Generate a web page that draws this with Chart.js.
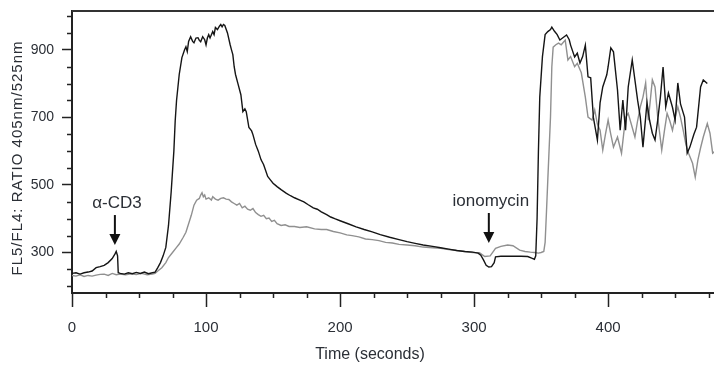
<!DOCTYPE html>
<html>
<head>
<meta charset="utf-8">
<script src="https://cdn.jsdelivr.net/npm/chart.js@4/dist/chart.umd.min.js"></script>
<style>
  html, body { margin: 0; padding: 0; background: #ffffff; overflow: hidden; }
  #wrap { width: 714px; height: 371px; position: relative; }
  canvas { display: block; }
</style>
</head>
<body>
<div id="wrap"><canvas id="c" width="714" height="371" style="width:714px;height:371px"></canvas></div>
<script>
// ---- Data ----
const blackTime = [0,3,6,9,12,15,18,21,24,27,30,32,33,34,34.5,36,39,42,45,48,51,54,57,60,62,64,66,68,70,72,74,76,77,78,80,82,84,85,86,87,88.5,90,91,92.5,94,95,96,97.5,99,100,101,102,103,105,106,107,108.5,110,111,112,113,114,116,118,119,120,121,122,124,126,127.5,129,130,132,134,135,137,139,141,143,146,148,150,153,156,160,163,166,170,173,176,180,183,186,190,193,196,200,206,212,218,224,230,237,244,250,256,262,269,275,281,287,293,299,303,305,307,309,311,313,315,316,320,325,330,335,340,343,345,346,347,348,349,351,353,355,357,358,360,362,364,366,369,371,372,375,377,379,381,383,385,387,389,392,394,396,399,400,402,404,407,409,411,413,415,418,422,424,426,429,431,433,435,437,439,441,443,445,448,450,452,454,457,459,461,464,466,469,471,474,476,478,480];
const blackRatio = [238,240,236,240,242,245,255,258,262,270,282,295,303,290,240,238,236,240,237,241,238,242,237,240,242,255,270,290,315,380,480,600,690,750,827,877,900,909,895,925,939,925,921,935,936,928,924,939,930,915,935,945,935,954,945,966,960,970,975,968,975,972,950,915,900,886,850,827,797,767,717,725,717,670,660,649,620,600,575,560,525,515,505,495,486,475,468,462,455,450,442,432,428,420,412,405,400,394,385,376,368,361,353,345,338,332,327,322,318,314,310,306,303,301,298,292,278,262,257,258,270,287,289,289,289,289,288,283,280,290,400,600,760,880,945,954,960,967,955,945,929,935,944,930,914,879,890,861,880,914,820,817,700,633,743,790,826,850,906,894,781,662,751,662,790,870,751,701,612,743,690,653,633,692,760,849,731,772,730,692,802,740,701,594,612,650,671,790,811,800];
const grayTime = [0,3,6,9,12,15,18,21,24,27,30,33,36,40,44,48,52,56,60,62,64,67,70,72,75,78,80,83,85,87,89,91,93,95,96,97,98,99,100,102,104,105,107,109,111,113,115,117,119,121,123,125,127,129,131,133,135,137,139,141,143,145,147,149,151,153,156,159,162,166,170,175,181,186,190,195,200,205,209,214,219,224,229,234,239,244,250,256,262,269,275,281,287,293,299,304,308,312,316,320,325,329,334,338,342,345,348,350,352,353,354,355,357,358,359,361,363,365,368,370,372,375,377,380,383,385,388,390,392,394,396,398,400,402,404,407,410,413,415,418,420,422,424,426,428,430,433,435,437,440,442,444,446,448,450,452,454,456,458,460,463,465,467,469,471,474,476,478,480];
const grayRatio = [232,230,234,229,232,230,233,235,236,232,238,234,236,234,237,235,238,234,236,238,245,255,270,285,300,315,325,345,360,385,410,440,455,460,470,477,465,470,458,462,455,465,458,455,460,462,458,457,450,445,440,445,432,437,428,425,430,418,412,407,410,400,402,392,395,385,380,382,377,377,374,376,370,368,368,362,358,352,350,346,340,338,335,330,328,324,322,320,316,314,312,309,306,303,300,299,288,290,312,318,322,320,307,303,301,300,298,300,303,330,420,515,700,850,908,915,920,915,929,870,880,850,860,832,760,701,692,722,680,662,603,650,692,650,612,642,594,700,712,670,642,690,731,760,802,692,811,790,701,603,660,712,690,662,700,731,700,662,620,594,564,523,574,610,642,682,653,594,600];
const xMajorTicks = [0,100,200,300,400];
const yMajorTicks = [300,500,700,900];
const annotationLabels = ['\u03b1-CD3','ionomycin'];
const annotationTimes = [32,311];
const annotationTipRatios = [322,328];
const xTitle = 'Time (seconds)';
const yTitle = 'FL5/FL4: RATIO 405nm/525nm';

const toPoints = (t, v) => t.map((x, i) => ({x: x, y: v[i]}));
const FONT = "'Liberation Sans', Arial, Helvetica, sans-serif";
const TEXT = '#2b2f36';
const AXIS = '#222222';

const decorPlugin = {
  id: 'decor',
  afterDraw(chart) {
    const ctx = chart.ctx;
    const a = chart.chartArea;
    const xs = chart.scales.x, ys = chart.scales.y;
    ctx.save();
    // top frame line
    ctx.strokeStyle = '#333';
    ctx.lineWidth = 2;
    ctx.beginPath(); ctx.moveTo(a.left, a.top); ctx.lineTo(a.right, a.top); ctx.stroke();
    // minor ticks
    ctx.lineWidth = 1.5;
    ctx.strokeStyle = AXIS;
    xs.ticks.forEach(t => {
      if (xMajorTicks.indexOf(t.value) < 0) {
        const px = Math.round(xs.getPixelForValue(t.value)) + 0.5;
        ctx.beginPath(); ctx.moveTo(px, a.bottom); ctx.lineTo(px, a.bottom + 5); ctx.stroke();
      }
    });
    ys.ticks.forEach(t => {
      if (yMajorTicks.indexOf(t.value) < 0) {
        const py = Math.round(ys.getPixelForValue(t.value)) + 0.5;
        ctx.beginPath(); ctx.moveTo(a.left, py); ctx.lineTo(a.left - 5, py); ctx.stroke();
      }
    });
    // annotations (arrows + labels)
    annotationLabels.forEach((lab, i) => {
      const px = xs.getPixelForValue(annotationTimes[i]);
      const tip = ys.getPixelForValue(annotationTipRatios[i]);
      ctx.fillStyle = '#111';
      ctx.strokeStyle = '#111';
      ctx.lineWidth = 2;
      ctx.beginPath(); ctx.moveTo(px, tip - 30); ctx.lineTo(px, tip - 8); ctx.stroke();
      ctx.beginPath();
      ctx.moveTo(px - 5.5, tip - 11); ctx.lineTo(px + 5.5, tip - 11); ctx.lineTo(px, tip); ctx.closePath();
      ctx.fill();
      ctx.font = '17px ' + FONT;
      ctx.fillStyle = TEXT;
      ctx.textAlign = 'center';
      ctx.textBaseline = 'alphabetic';
      ctx.fillText(lab, px + 2, tip - 37);
    });
    // x title
    ctx.fillStyle = TEXT;
    ctx.font = '16px ' + FONT;
    ctx.textAlign = 'center';
    ctx.textBaseline = 'middle';
    ctx.fillText(xTitle, a.left + 298, 355);
    // y title
    ctx.translate(18, 158);
    ctx.rotate(-Math.PI / 2);
    ctx.font = '15px ' + FONT;
    ctx.letterSpacing = '1px';
    ctx.fillText(yTitle, 0, 0);
    ctx.restore();
  }
};

new Chart(document.getElementById('c'), {
  type: 'line',
  data: {
    datasets: [
      { label: 'black', data: toPoints(blackTime, blackRatio), borderColor: '#151515', borderWidth: 1.4, pointRadius: 0, tension: 0, fill: false },
      { label: 'gray', data: toPoints(grayTime, grayRatio), borderColor: '#909090', borderWidth: 1.4, pointRadius: 0, tension: 0, fill: false }
    ]
  },
  options: {
    responsive: false,
    animation: false,
    devicePixelRatio: 1,
    layout: { padding: { left: 0, right: 0, top: 11, bottom: 0 } },
    plugins: { legend: { display: false }, tooltip: { enabled: false }, title: { display: false } },
    scales: {
      x: {
        type: 'linear',
        min: 0, max: 479,
        afterFit(s) { s.height = 78; s.paddingLeft = 0; s.paddingRight = 0; },
        border: { display: true, color: AXIS, width: 2 },
        grid: {
          display: true, drawOnChartArea: false, drawTicks: true, tickLength: 14,
          tickColor: (c) => xMajorTicks.indexOf(c.tick && c.tick.value) >= 0 ? AXIS : 'rgba(0,0,0,0)',
          tickWidth: 1.5
        },
        ticks: {
          stepSize: 25, includeBounds: false, autoSkip: false, maxRotation: 0,
          padding: 12, color: TEXT, font: { family: FONT, size: 15 },
          callback: (v) => xMajorTicks.indexOf(v) >= 0 ? String(v) : ''
        }
      },
      y: {
        type: 'linear',
        min: 180, max: 1015,
        afterFit(s) { s.width = 72; s.paddingTop = 0; s.paddingBottom = 0; },
        border: { display: true, color: AXIS, width: 2 },
        grid: {
          display: true, drawOnChartArea: false, drawTicks: true, tickLength: 10,
          tickColor: (c) => yMajorTicks.indexOf(c.tick && c.tick.value) >= 0 ? AXIS : 'rgba(0,0,0,0)',
          tickWidth: 1.5
        },
        ticks: {
          stepSize: 50, includeBounds: false, autoSkip: false,
          padding: 8, color: TEXT, font: { family: FONT, size: 14 },
          callback: (v) => yMajorTicks.indexOf(v) >= 0 ? String(v) : ''
        }
      }
    }
  },
  plugins: [decorPlugin]
});
</script>
</body>
</html>
